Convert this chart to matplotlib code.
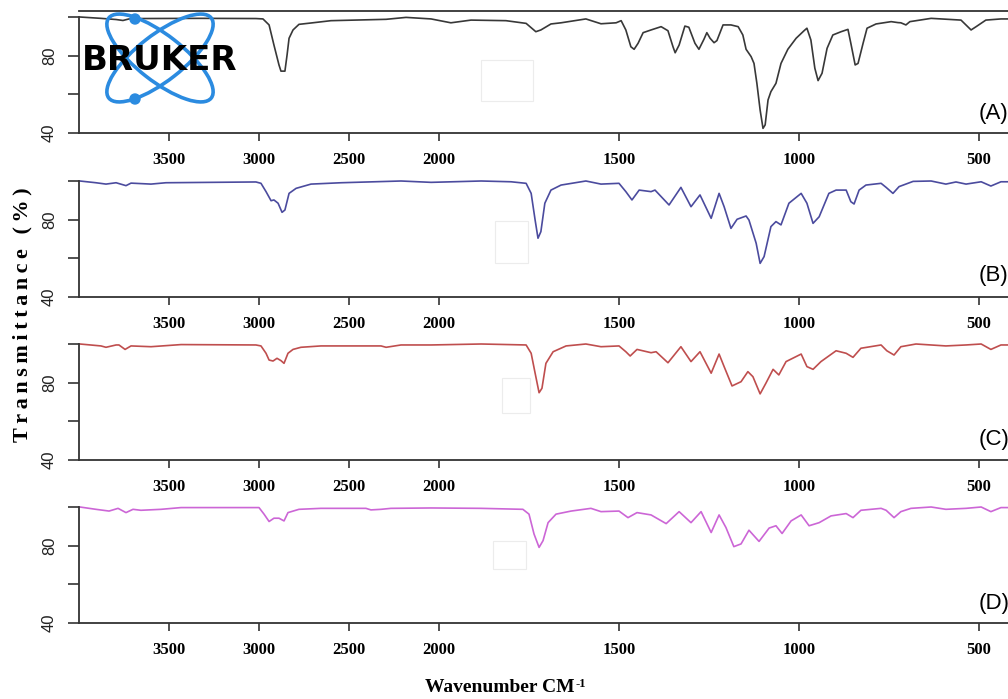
import numpy as np
import matplotlib
matplotlib.use("Agg")
import matplotlib.pyplot as plt
from matplotlib.patches import Ellipse, Circle, Rectangle

# ---- spectra: wavenumber (cm-1) and transmittance (%)
wn_a = [3995, 3878, 3794, 3756, 3722, 3656, 3322, 3017, 2978, 2944, 2917, 2889,
        2878, 2856, 2844, 2833, 2811, 2778, 2711, 2600, 2294, 2183, 2044, 1967,
        1911, 1814, 1758, 1731, 1717, 1689, 1661, 1592, 1550, 1508, 1494, 1481,
        1467, 1458, 1447, 1433, 1411, 1383, 1364, 1350, 1344, 1333, 1317, 1306,
        1289, 1278, 1264, 1256, 1247, 1236, 1228, 1211, 1189, 1169, 1156, 1147,
        1133, 1125, 1117, 1108, 1100, 1094, 1086, 1078, 1064, 1050, 1031, 1008,
        986, 978, 967, 956, 947, 936, 922, 906, 883, 864, 856, 844, 836, 822,
        811, 786, 744, 725, 717, 703, 692, 633, 550, 522, 508, 481, 439, 417]
t_a = [100, 99.3, 98.7, 98.2, 99.0, 99.2, 99.3, 99.2, 99.0, 95.9, 85.5, 75.2,
       72.0, 72.0, 80.4, 89.0, 93.3, 96.2, 96.9, 98.1, 98.8, 99.8, 99.0, 97.0,
       98.4, 98.1, 96.7, 92.4, 93.3, 96.4, 97.0, 99.0, 96.5, 97.0, 98.1, 93.3,
       84.6, 83.3, 86.4, 91.9, 93.3, 95.0, 92.9, 84.6, 81.5, 85.5, 95.3, 94.7,
       86.4, 83.3, 88.5, 91.9, 89.0, 86.7, 87.8, 95.9, 95.9, 95.0, 90.7, 83.3,
       79.5, 76.0, 65.7, 51.9, 42.4, 44.2, 57.1, 61.4, 65.7, 76.0, 83.3, 89.0,
       92.9, 94.2, 88.1, 73.5, 67.1, 70.9, 83.8, 90.7, 92.4, 93.6, 86.4, 75.2,
       76.0, 86.4, 94.2, 96.4, 97.6, 97.1, 97.0, 95.9, 97.6, 99.3, 98.4, 93.3,
       95.0, 98.4, 99.0, 99.0]

wn_b = [3995, 3906, 3850, 3794, 3739, 3711, 3600, 3517, 3017, 2989, 2961, 2933,
        2917, 2894, 2872, 2856, 2833, 2794, 2711, 2544, 2211, 2044, 1883, 1800,
        1758, 1744, 1733, 1725, 1717, 1706, 1689, 1661, 1592, 1550, 1500, 1481,
        1464, 1444, 1411, 1400, 1361, 1328, 1300, 1275, 1244, 1222, 1208, 1189,
        1172, 1147, 1139, 1119, 1108, 1097, 1078, 1064, 1050, 1028, 994, 978,
        961, 944, 917, 897, 869, 856, 847, 833, 814, 772, 758, 739, 722, 683,
        633, 592, 564, 536, 494, 467, 439, 417]
t_b = [100, 99.1, 98.4, 99.1, 97.6, 98.9, 98.4, 99.1, 99.5, 98.8, 94.5, 89.8,
       90.2, 88.5, 83.8, 85.0, 93.6, 96.2, 98.4, 99.1, 100, 99.3, 100, 99.6,
       98.8, 93.6, 79.8, 70.4, 73.8, 88.5, 95.3, 97.9, 100, 98.4, 98.8, 94.5,
       90.2, 95.3, 94.5, 95.3, 87.6, 96.7, 86.7, 92.8, 80.7, 93.6, 86.7, 75.5,
       80.2, 81.9, 79.8, 67.8, 57.4, 60.9, 76.4, 79.0, 77.3, 88.5, 93.6, 88.5,
       78.1, 81.5, 93.6, 95.3, 95.3, 89.3, 88.1, 95.3, 97.9, 98.8, 96.7, 93.6,
       97.1, 99.8, 100, 98.4, 99.5, 98.4, 99.6, 97.4, 99.6, 99.6]

wn_c = [3995, 3878, 3850, 3794, 3778, 3744, 3711, 3600, 3433, 3017, 2989, 2961,
        2944, 2922, 2900, 2878, 2861, 2839, 2811, 2767, 2656, 2322, 2294, 2211,
        2044, 1883, 1758, 1744, 1733, 1722, 1714, 1703, 1683, 1647, 1592, 1550,
        1500, 1481, 1469, 1450, 1411, 1397, 1364, 1328, 1300, 1275, 1244, 1222,
        1208, 1186, 1161, 1142, 1128, 1108, 1092, 1072, 1056, 1036, 994, 978,
        961, 939, 897, 869, 850, 828, 772, 756, 736, 717, 675, 592, 536, 494,
        467, 439, 417]
t_c = [100, 99.0, 98.3, 99.5, 99.5, 97.2, 99.0, 98.6, 99.7, 99.5, 99.0, 95.2,
       91.7, 91.2, 92.6, 91.4, 90.0, 95.2, 97.2, 98.3, 99.0, 99.0, 98.3, 99.5,
       99.5, 100, 99.5, 95.2, 84.9, 74.8, 77.1, 90.0, 96.0, 99.0, 100, 98.6,
       99.0, 96.0, 93.8, 97.2, 95.5, 96.0, 90.3, 98.6, 90.9, 96.0, 84.9, 94.8,
       88.3, 78.3, 80.5, 85.7, 83.1, 74.2, 79.7, 86.9, 84.0, 90.9, 94.8, 88.3,
       86.9, 90.9, 96.5, 95.2, 93.1, 97.8, 99.5, 96.5, 94.3, 98.6, 100, 99.0,
       99.5, 100, 97.2, 99.5, 99.5]

wn_d = [3995, 3906, 3833, 3783, 3739, 3700, 3656, 3544, 3433, 3000, 2972, 2944,
        2917, 2889, 2861, 2839, 2778, 2656, 2406, 2378, 2322, 2267, 2044, 1883,
        1767, 1750, 1736, 1722, 1711, 1697, 1675, 1633, 1578, 1550, 1500, 1475,
        1450, 1411, 1369, 1333, 1300, 1272, 1244, 1222, 1203, 1181, 1161, 1139,
        1111, 1083, 1064, 1047, 1022, 994, 972, 944, 911, 869, 850, 828, 772,
        758, 736, 717, 689, 633, 592, 536, 494, 467, 439, 417]
t_d = [100, 98.8, 97.9, 99.3, 97.1, 98.8, 98.3, 98.8, 99.7, 99.7, 96.3, 92.5,
       94.2, 94.2, 92.8, 97.1, 98.8, 99.3, 99.3, 98.5, 98.8, 99.3, 99.5, 99.3,
       98.8, 96.3, 86.0, 79.1, 82.6, 91.9, 96.3, 97.9, 99.3, 97.6, 97.9, 94.5,
       97.1, 95.9, 91.4, 97.6, 91.9, 97.6, 86.8, 95.9, 89.4, 79.5, 80.9, 88.0,
       82.2, 89.1, 90.3, 86.3, 92.8, 95.9, 90.3, 91.9, 95.4, 96.6, 94.5, 98.3,
       99.3, 98.3, 94.5, 97.6, 99.3, 100, 98.8, 99.3, 100, 97.6, 99.7, 99.7]

panels = ["(A)", "(B)", "(C)", "(D)"]
colors = ["#383838", "#4b4b9e", "#bf4e4e", "#cc66d6"]
x_ticks = [3500, 3000, 2500, 2000, 1500, 1000, 500]
y_ticks = [40, 60, 80, 100]
y_labels = ["40", "", "80", ""]


# OPUS-style axis: the range above 2000 cm-1 is compressed 2x
def fwd(w):
    w = np.asarray(w, float)
    return np.where(w > 2000, 2000 + (w - 2000) * 0.5, w)


def inv(p):
    p = np.asarray(p, float)
    return np.where(p > 2000, 2000 + (p - 2000) * 2.0, p)


W, H = 1008, 699
fig = plt.figure(figsize=(W / 100, H / 100), dpi=100)

bottoms = [133, 297, 460, 623]   # pixel row of each panel's x axis
ax_h = 121.8
left, ax_w = 79, 936
label_y = [113, 276, 439, 603]
series = [(wn_a, t_a), (wn_b, t_b), (wn_c, t_c), (wn_d, t_d)]

for i, (wn, tr) in enumerate(series):
    ax = fig.add_axes([left / W, 1 - bottoms[i] / H, ax_w / W, ax_h / H])
    ax.set_xscale("function", functions=(fwd, inv))
    ax.plot(wn, tr, color=colors[i], lw=1.2)
    ax.set_xlim(4000, 400)
    ax.set_ylim(40, 103)
    ax.set_xticks(x_ticks)
    ax.set_xticklabels([str(t) for t in x_ticks], fontfamily="Liberation Serif",
                       fontweight="bold", fontsize=12)
    ax.xaxis.set_minor_locator(plt.NullLocator())
    ax.set_yticks(y_ticks)
    ax.set_yticklabels(y_labels, rotation=90, va="center",
                       fontfamily="Liberation Sans", fontsize=12, color="#222")
    ax.tick_params(axis="x", length=6, width=1.2, pad=8, color="#333")
    ax.tick_params(axis="y", length=8, width=1.2, pad=8, color="#333")
    for s in ["left", "bottom", "top"]:
        ax.spines[s].set_color("#333")
        ax.spines[s].set_linewidth(1.3)
    ax.spines["left"].set_bounds(40, 100)
    ax.spines["right"].set_visible(False)
    if i > 0:
        ax.spines["top"].set_visible(False)
    ax.patch.set_alpha(0)
    fig.text(979 / W, 1 - label_y[i] / H, panels[i], fontsize=16,
             fontfamily="Liberation Sans", ha="left", va="center")

# letter-spaced y label
ylab = "\u2009".join("Transmittance") + "\u2009\u2009 " + "\u2009".join("(%)")
fig.text(22 / W, 1 - 315 / H, ylab, rotation=90,
         ha="center", va="center", fontsize=16,
         fontfamily=["Liberation Serif", "DejaVu Serif"], fontweight="bold")

# x label with a small raised "-1"
xl = fig.text(500 / W, 1 - 688 / H, "Wavenumber CM", ha="center", va="center",
              fontsize=14, fontfamily="Liberation Serif", fontweight="bold")
fig.add_artist(plt.Annotation("-1", xy=(1, 1), xycoords=xl, xytext=(0.5, 1),
                              textcoords="offset points", ha="left", va="top",
                              fontsize=9, fontfamily="Liberation Serif",
                              fontweight="bold"))

# logo and faint boxes, drawn in pixel space
ov = fig.add_axes([0, 0, 1, 1])
ov.set_xlim(0, W)
ov.set_ylim(H, 0)
ov.axis("off")
ov.patch.set_alpha(0)
blue = "#2b8be0"
for ang in (38, -38):
    ov.add_patch(Ellipse((160, 58), 130, 46, angle=ang, fill=False,
                         edgecolor=blue, lw=2.6))
for cy in (19, 99):
    ov.add_patch(Circle((135, cy), 5, color=blue))
ov.text(160, 60, "BRUKER", ha="center", va="center", fontsize=24.5,
        fontweight="heavy", fontfamily="DejaVu Sans", color="black")
for (x0, y0, x1, y1) in [(481, 60, 533, 101), (495, 221, 528, 263),
                         (502, 378, 530, 413), (493, 541, 526, 569)]:
    ov.add_patch(Rectangle((x0, y0), x1 - x0, y1 - y0, fill=False,
                           edgecolor="#ececec", lw=0.8))

fig.savefig("out.png", dpi=100)
